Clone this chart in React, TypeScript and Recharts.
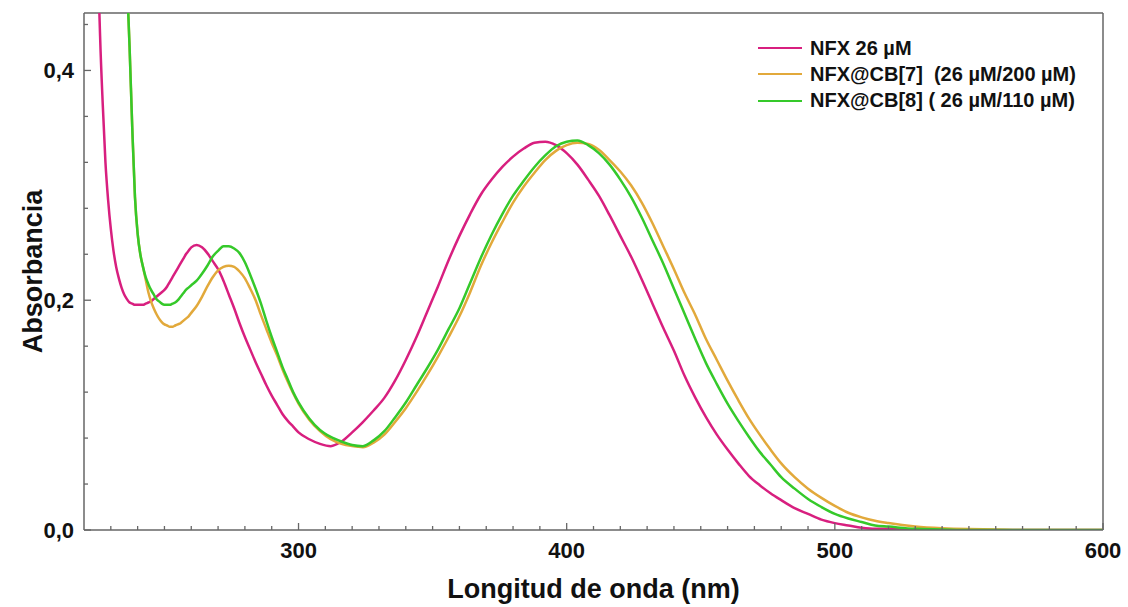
import React from 'react';
import { LineChart, Line, XAxis, YAxis, ReferenceLine, Legend } from 'recharts';

const wavelengths = [
  222, 223, 224, 225, 226, 227, 228, 229, 230, 231, 232, 233, 234, 235, 236, 237, 238, 239, 240, 241,
  242, 243, 244, 245, 246, 247, 248, 249, 250, 251, 252, 253, 254, 255, 256, 257, 258, 259, 260,
  262, 264, 266, 268, 270, 272, 274, 276, 278, 280, 282, 284, 286, 288, 290, 292, 294, 296, 298, 300,
  304, 308, 312, 316, 320, 324, 328, 332, 336, 340, 344, 348, 352, 356, 360, 364, 368, 372, 376, 380,
  384, 388, 392, 396, 400, 404, 408, 412, 416, 420, 424, 428, 432, 436, 440, 444, 448, 452, 456, 460,
  464, 468, 472, 476, 480, 485, 490, 495, 500, 505, 510, 515, 520, 530, 540, 550, 560, 570, 580, 590, 600,
];

const nfx = [
  1.2, 0.9, 0.68, 0.52, 0.43, 0.37, 0.32, 0.287, 0.262, 0.243, 0.229, 0.219, 0.211, 0.205, 0.201, 0.198, 0.197, 0.196, 0.196, 0.196,
  0.196, 0.197, 0.198, 0.199, 0.201, 0.203, 0.205, 0.207, 0.209, 0.212, 0.216, 0.22, 0.224, 0.228, 0.232, 0.236, 0.24, 0.243, 0.246,
  0.248, 0.246, 0.241, 0.234, 0.227, 0.217, 0.205, 0.193, 0.18, 0.168, 0.157, 0.146, 0.136, 0.126, 0.117, 0.109, 0.101, 0.095, 0.09, 0.085,
  0.079, 0.075, 0.073, 0.077, 0.085, 0.094, 0.104, 0.115, 0.13, 0.148, 0.168, 0.19, 0.212, 0.235, 0.256, 0.275, 0.292, 0.305, 0.316, 0.325,
  0.332, 0.337, 0.338, 0.335, 0.328, 0.318, 0.305, 0.291, 0.274, 0.256, 0.238, 0.218, 0.197, 0.176, 0.156, 0.134, 0.115, 0.098, 0.083, 0.07,
  0.058, 0.047, 0.039, 0.032, 0.026, 0.019, 0.014, 0.009, 0.006, 0.004, 0.002, 0.001, 0.001, 0.0005, 0, 0, 0, 0, 0, 0, 0,
];

const nfxCB7 = [
  2.5, 2.3, 2.1, 1.9, 1.7, 1.5, 1.35, 1.2, 1.05, 0.92, 0.8, 0.7, 0.61, 0.54, 0.48, 0.42, 0.35, 0.29, 0.258, 0.24,
  0.229, 0.218, 0.207, 0.199, 0.193, 0.188, 0.184, 0.181, 0.179, 0.178, 0.177, 0.177, 0.178, 0.179, 0.18, 0.182, 0.184, 0.186, 0.189,
  0.195, 0.203, 0.212, 0.22, 0.226, 0.229, 0.23, 0.229, 0.225, 0.219, 0.21, 0.2, 0.187, 0.175, 0.163, 0.152, 0.14, 0.129, 0.119, 0.11,
  0.096, 0.086, 0.079, 0.075, 0.073, 0.072, 0.076, 0.083, 0.094, 0.106, 0.12, 0.135, 0.151, 0.168, 0.186, 0.207, 0.23, 0.25, 0.268, 0.285,
  0.299, 0.311, 0.322, 0.33, 0.335, 0.337, 0.336, 0.331, 0.322, 0.312, 0.3, 0.285, 0.267, 0.247, 0.227, 0.206, 0.187, 0.166, 0.148, 0.13,
  0.113, 0.097, 0.083, 0.07, 0.058, 0.046, 0.036, 0.028, 0.021, 0.015, 0.011, 0.008, 0.006, 0.003, 0.0015, 0.0008, 0.0005, 0, 0, 0, 0,
];

const nfxCB8 = [
  2.5, 2.3, 2.1, 1.9, 1.7, 1.5, 1.35, 1.2, 1.05, 0.92, 0.8, 0.7, 0.61, 0.54, 0.48, 0.42, 0.35, 0.29, 0.258, 0.24,
  0.229, 0.22, 0.214, 0.209, 0.205, 0.201, 0.199, 0.197, 0.196, 0.196, 0.196, 0.197, 0.198, 0.2, 0.203, 0.206, 0.209, 0.211, 0.213,
  0.217, 0.223, 0.23, 0.238, 0.243, 0.247, 0.247, 0.245, 0.241, 0.233, 0.222, 0.21, 0.197, 0.182, 0.168, 0.155, 0.142, 0.131, 0.12, 0.111,
  0.097, 0.087, 0.081, 0.077, 0.074, 0.073, 0.078, 0.086, 0.098, 0.111, 0.126, 0.141, 0.157, 0.175, 0.193, 0.215, 0.237, 0.257, 0.275, 0.291,
  0.304, 0.316, 0.326, 0.334, 0.338, 0.339, 0.335, 0.328, 0.318, 0.305, 0.29, 0.272, 0.252, 0.232, 0.21, 0.188, 0.166, 0.145, 0.127, 0.11,
  0.095, 0.081, 0.068, 0.057, 0.046, 0.036, 0.027, 0.02, 0.014, 0.01, 0.007, 0.004, 0.003, 0.001, 0.0005, 0, 0, 0, 0, 0, 0,
];

const seriesNames = ['NFX 26 µM', 'NFX@CB[7]  (26 µM/200 µM)', 'NFX@CB[8] ( 26 µM/110 µM)'];
const seriesKeys = ['nfx', 'cb7', 'cb8'];
const seriesColors = ['#d81f7f', '#e2a93b', '#35c92a'];

const xTicks = [
  230, 240, 250, 260, 270, 280, 290, 300, 310, 320, 330, 340, 350, 360, 370, 380, 390, 400,
  410, 420, 430, 440, 450, 460, 470, 480, 490, 500, 510, 520, 530, 540, 550, 560, 570, 580, 590, 600,
];
const xLabelTicks = [300, 400, 500, 600];
const yTicks = [0, 0.04, 0.08, 0.12, 0.16, 0.2, 0.24, 0.28, 0.32, 0.36, 0.4, 0.44];
const yLabelTicks = [0, 0.2, 0.4];

const data = wavelengths.map((wl, i) => ({ wl, nfx: nfx[i], cb7: nfxCB7[i], cb8: nfxCB8[i] }));

const FONT = '"Liberation Sans", Arial, Helvetica, sans-serif';
const AXIS = '#666666';
const TEXT = '#111111';

const XTick = (props: any) => {
  const { x, y, payload } = props;
  const v = payload.value;
  const major = xLabelTicks.includes(v);
  return (
    <g>
      <line x1={x} x2={x} y1={y} y2={y - (major ? 7 : 4)} stroke={AXIS} strokeWidth={1.3} />
      {major && (
        <text x={x} y={y + 28} textAnchor="middle" fontFamily={FONT} fontWeight="bold" fontSize={22} fill={TEXT}>
          {v}
        </text>
      )}
    </g>
  );
};

const YTick = (props: any) => {
  const { x, y, payload } = props;
  const v = payload.value;
  const major = yLabelTicks.some((t) => Math.abs(t - v) < 1e-9);
  return (
    <g>
      <line x1={x} x2={x + (major ? 7 : 4)} y1={y} y2={y} stroke={AXIS} strokeWidth={1.3} />
      {major && (
        <text x={x - 10} y={y + 8} textAnchor="end" fontFamily={FONT} fontWeight="bold" fontSize={22} fill={TEXT}>
          {v.toFixed(1).replace('.', ',')}
        </text>
      )}
    </g>
  );
};

const YTitle = (props: any) => {
  const vb = props.viewBox;
  const cx = 33;
  const cy = vb.y + vb.height / 2;
  return (
    <text
      x={cx}
      y={cy}
      transform={`rotate(-90, ${cx}, ${cy})`}
      textAnchor="middle"
      dominantBaseline="central"
      fontFamily={FONT}
      fontWeight="bold"
      fontSize={27}
      fill={TEXT}
    >
      Absorbancia
    </text>
  );
};

const XTitle = (props: any) => {
  const vb = props.viewBox;
  return (
    <text
      x={vb.x + vb.width / 2}
      y={vb.y + 68}
      textAnchor="middle"
      fontFamily={FONT}
      fontWeight="bold"
      fontSize={27}
      fill={TEXT}
    >
      Longitud de onda (nm)
    </text>
  );
};

const renderLegend = () => (
  <div style={{ fontFamily: FONT, fontWeight: 'bold', fontSize: 20, color: TEXT }}>
    {seriesNames.map((n, i) => (
      <div key={n} style={{ display: 'flex', alignItems: 'center', height: 26.3 }}>
        <span
          style={{
            display: 'inline-block',
            width: 44,
            height: 0,
            borderTop: `2.5px solid ${seriesColors[i]}`,
            marginRight: 8,
          }}
        />
        <span style={{ whiteSpace: 'pre' }}>{n}</span>
      </div>
    ))}
  </div>
);

export default function App() {
  return (
    <div style={{ position: 'absolute', left: 0, top: 0, width: 1128, height: 607, background: '#fff' }}>
      <LineChart width={1128} height={607} data={data} margin={{ top: 13, right: 25, bottom: 0, left: 0 }}>
        <XAxis
          dataKey="wl"
          type="number"
          domain={[220, 600]}
          allowDataOverflow
          ticks={xTicks}
          interval={0}
          tick={XTick}
          tickLine={false}
          tickSize={0}
          tickMargin={0}
          height={77}
          axisLine={{ stroke: AXIS, strokeWidth: 1.5 }}
          label={{ content: XTitle }}
        />
        <YAxis
          type="number"
          domain={[0, 0.45]}
          allowDataOverflow
          ticks={yTicks}
          interval={0}
          tick={YTick}
          tickLine={false}
          tickSize={0}
          tickMargin={0}
          width={84}
          axisLine={{ stroke: AXIS, strokeWidth: 1.5 }}
          label={{ content: YTitle }}
        />
        <ReferenceLine y={0.45} stroke={AXIS} strokeWidth={1.5} />
        <ReferenceLine x={600} stroke={AXIS} strokeWidth={1.5} />
        {seriesKeys.map((k, i) => (
          <Line
            key={k}
            dataKey={k}
            name={seriesNames[i]}
            type="monotone"
            stroke={seriesColors[i]}
            strokeWidth={2.5}
            dot={false}
            activeDot={false}
            isAnimationActive={false}
          />
        ))}
        <Legend
          layout="horizontal"
          verticalAlign="middle"
          align="center"
          wrapperStyle={{ left: 758, top: 35, width: 360 }}
          content={renderLegend}
        />
      </LineChart>
    </div>
  );
}
